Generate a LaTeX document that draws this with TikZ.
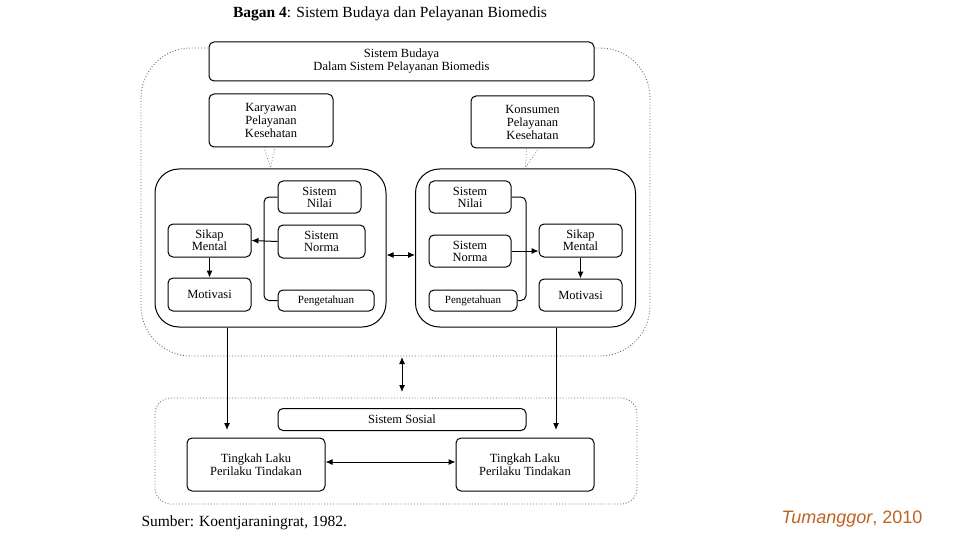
\documentclass[tikz,border=0pt]{standalone}
\usepackage{fontspec}
\setmainfont{Liberation Serif}
\newfontfamily\arialfont{Liberation Sans}
\usetikzlibrary{arrows.meta,calc}
\definecolor{srcorange}{RGB}{192,98,32}
\tikzset{
  box/.style={draw, line width=1pt, rounded corners=5pt, inner sep=0pt, align=center, font=\fontsize{12.5}{12}\selectfont},
  box3/.style={box, font=\fontsize{12.5}{13}\selectfont},
  boxsm/.style={box, font=\fontsize{11}{12}\selectfont},
  bigbox/.style={draw, line width=1pt, rounded corners=24pt},
  dotbox/.style={draw=gray!80!black, dotted, line width=0.9pt},
  callout/.style={draw=gray, dotted, line width=0.8pt},
  arr/.style={line width=1pt, -{Latex[length=7pt,width=6pt]}},
  darr/.style={line width=1pt, {Latex[length=7pt,width=6pt]}-{Latex[length=7pt,width=6pt]}},
  brk/.style={line width=1pt, rounded corners=5pt},
}
\begin{document}
\begin{tikzpicture}[x=1pt,y=-1pt]
\useasboundingbox (0,0) rectangle (960,540);
% title
\node[anchor=center, font=\fontsize{15.5}{17}\selectfont] (title) at (390,14) {\textbf{Bagan 4}: Sistem Budaya dan Pelayanan Biomedis};
% outer dotted
\draw[dotbox, rounded corners=50pt] (141,48) rectangle (650,356);
\draw[dotbox, rounded corners=16pt] (155,398) rectangle (637,504);
% top box
\node[box3, fill=white, minimum width=385pt, minimum height=39pt] (budaya) at (401.5,61.5) {Sistem Budaya\\Dalam Sistem Pelayanan Biomedis};
\node[box3, fill=white, minimum width=124pt, minimum height=53pt] (kary) at (271,120.5) {Karyawan\\Pelayanan\\Kesehatan};
\node[box3, fill=white, minimum width=123pt, minimum height=52pt] (kons) at (532.5,122) {Konsumen\\Pelayanan\\Kesehatan};
% inner big boxes
\node[bigbox, minimum width=231pt, minimum height=158pt] (lbig) at (270.5,248) {};
\node[bigbox, minimum width=220pt, minimum height=158pt] (rbig) at (525.5,248) {};
% callouts
\draw[callout] ($(kary.south)+(-7,0)$) -- ($(lbig.north)+(0,-1)$) -- ($(kary.south)+(4,0)$);
\draw[callout] ($(kons.south)+(-6,0)$) -- ($(rbig.north)+(0,-1)$) -- ($(kons.south)+(6,0)$);
% left inner
\node[box, minimum width=83pt, minimum height=32pt] (lnilai) at (319.5,197) {Sistem\\Nilai};
\node[box, minimum width=87pt, minimum height=33pt] (lnorma) at (321.5,241.5) {Sistem\\Norma};
\node[boxsm, minimum width=96pt, minimum height=21pt] (lpeng) at (326,300.5) {Pengetahuan};
\node[box, minimum width=83pt, minimum height=33pt] (lsikap) at (209.5,240.5) {Sikap\\Mental};
\node[box, minimum width=83pt, minimum height=33pt] (lmot) at (209.5,294.5) {Motivasi};
\draw[brk] (lnilai.west) -- (264,197) -- (264,300.5) -- (lpeng.west);
\draw[arr] (lnorma.west) -- (lsikap.east);
\draw[arr] (lsikap) -- (lmot);
% right inner
\node[box, minimum width=82pt, minimum height=32pt] (rnilai) at (470,197) {Sistem\\Nilai};
\node[box, minimum width=82pt, minimum height=32pt] (rnorma) at (470,251) {Sistem\\Norma};
\node[boxsm, minimum width=88pt, minimum height=21pt] (rpeng) at (473,300.5) {Pengetahuan};
\node[box, minimum width=83pt, minimum height=33pt] (rsikap) at (580.5,240.5) {Sikap\\Mental};
\node[box, minimum width=83pt, minimum height=32pt] (rmot) at (580.5,295) {Motivasi};
\draw[brk] (rnilai.east) -- (526,197) -- (526,300.5) -- (rpeng.east);
\draw[arr] (rnorma.east) -- (rnorma.east -| rsikap.west);
\draw[arr] (rsikap) -- (rmot);
% between inner boxes
\draw[darr] ($(lbig.east)+(0,7)$) -- ($(rbig.west)+(0,7)$);
% bottom section
\node[box, minimum width=248pt, minimum height=22pt] (sosial) at (402,419.5) {Sistem Sosial};
\node[box3, minimum width=138pt, minimum height=53pt] (ltl) at (256,464.5) {Tingkah Laku\\Perilaku Tindakan};
\node[box3, minimum width=138pt, minimum height=53pt] (rtl) at (525,464.5) {Tingkah Laku\\Perilaku Tindakan};
\draw[darr] (ltl.east |- 0,462) -- (rtl.west |- 0,462);
\coordinate (ltlin) at (227,430);
\coordinate (rtlin) at (556,430);
\draw[arr] (lbig.south -| ltlin) -- (ltlin);
\draw[arr] (rbig.south -| rtlin) -- (rtlin);
\coordinate (mtop) at (402,357);
\coordinate (mbot) at (402,392);
\draw[darr] (mtop) -- (mbot);
% footer
\node[anchor=west, font=\fontsize{15.5}{17}\selectfont] (src) at (138,523) {Sumber: Koentjaraningrat, 1982.};
\node[anchor=east, font=\arialfont\fontsize{18}{20}\selectfont, text=srcorange] (auth) at (926,519) {\textit{Tumanggor}, 2010};
\end{tikzpicture}
\end{document}
